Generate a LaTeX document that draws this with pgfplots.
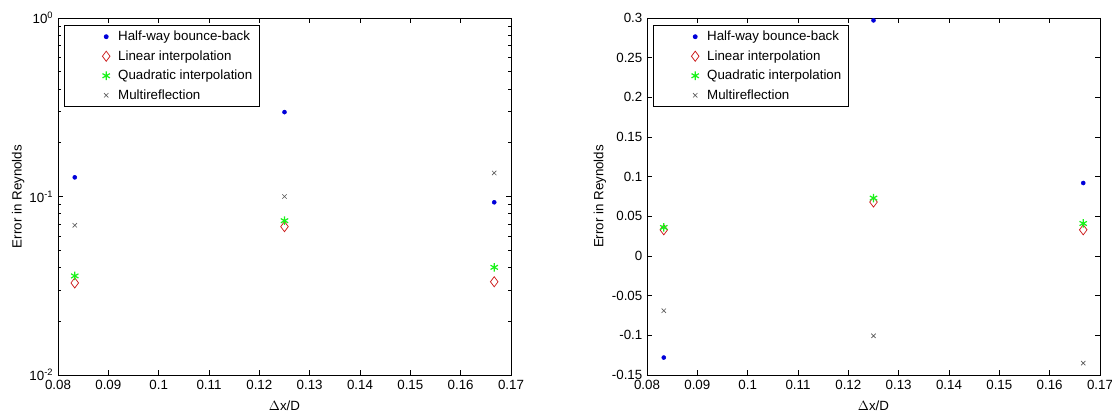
\documentclass[border=0pt]{standalone}
\usepackage{fontspec}
\setmainfont{Liberation Sans}
\usepackage{pgfplots}
\pgfplotsset{compat=1.18}
\definecolor{hbb}{rgb}{0,0,0.85}
\definecolor{lin}{rgb}{0.8,0.1,0.1}
\definecolor{quad}{rgb}{0.1,0.95,0.1}
\definecolor{mul}{rgb}{0.35,0.35,0.35}
\begin{document}
\begin{tikzpicture}[x=1pt,y=1pt]
\useasboundingbox (0,0) rectangle (834,312);
\pgfplotsset{
  leg/.style={legend image code/.code={\path (0pt,0pt) (34.5pt,0pt); \draw[##1] plot coordinates {(28pt,0pt)};}},
  myax/.style={
    scale only axis, width=339.75pt, height=267.75pt,
    xmin=0.08, xmax=0.17,
    xtick={0.08,0.09,0.1,0.11,0.12,0.13,0.14,0.15,0.16,0.17},
    scaled x ticks=false, scaled y ticks=false,
    xticklabel style={/pgf/number format/fixed,/pgf/number format/precision=2},
    /pgf/number format/assume math mode=true,
    tick label style={font=\fontsize{10}{12}\selectfont},
    label style={font=\fontsize{10}{12}\selectfont},
    axis line style={line width=0.6pt},
    every tick/.style={black, line width=0.5pt},
    major tick length=4pt, minor tick length=2.5pt,
    xlabel={$\Delta$x/D},
    xlabel style={at={(axis description cs:0.5,-0.087)},anchor=center},
    ylabel={Error in Reynolds},
    legend style={at={(axis description cs:0.013,0.98)}, anchor=north west,
      draw=black, line width=0.6pt, font=\fontsize{10}{12}\selectfont,
      row sep=1.9pt, cells={anchor=west}, inner xsep=3pt, inner ysep=2pt},
  },
  hbbp/.style={only marks, mark=*, mark size=1.5pt, color=hbb, leg},
  linp/.style={only marks, mark=diamond, mark size=3.8pt, color=lin, line width=0.55pt, leg},
  quadp/.style={only marks, mark=asterisk, mark size=3.2pt, color=quad, line width=0.9pt, leg},
  mulp/.style={only marks, mark=x, mark size=2.3pt, color=mul, line width=0.5pt, leg},
}
\begin{axis}[myax, at={(43.5pt,30.75pt)}, anchor=south west,
  ymode=log, ymin=0.01, ymax=1,
  ytick={0.01,0.1,1},
  yticklabels={10\textsuperscript{-2},10\textsuperscript{-1},10\textsuperscript{0}},
  minor ytick={0.02,0.03,0.04,0.05,0.06,0.07,0.08,0.09,0.2,0.3,0.4,0.5,0.6,0.7,0.8,0.9},
  ylabel style={at={(axis description cs:-0.088,0.5)},anchor=center},
]
\addplot[hbbp] coordinates {(0.08333,0.128) (0.125,0.297) (0.16667,0.0928)};
\addlegendentry{Half-way bounce-back}
\addplot[linp] coordinates {(0.08333,0.0328) (0.125,0.0678) (0.16667,0.0333)};
\addlegendentry{Linear interpolation}
\addplot[quadp] coordinates {(0.08333,0.0359) (0.125,0.0732) (0.16667,0.0401)};
\addlegendentry{Quadratic interpolation}
\addplot[mulp] coordinates {(0.08333,0.069) (0.125,0.100) (0.16667,0.1355)};
\addlegendentry{Multireflection}
\end{axis}
\begin{axis}[myax, at={(485.25pt,30.75pt)}, anchor=south west,
  ymin=-0.15, ymax=0.3,
  ytick={-0.15,-0.1,-0.05,0,0.05,0.1,0.15,0.2,0.25,0.3},
  yticklabel style={/pgf/number format/fixed,/pgf/number format/precision=2},
  ylabel style={at={(axis description cs:-0.104,0.5)},anchor=center},
]
\addplot[hbbp] coordinates {(0.08333,-0.128) (0.125,0.297) (0.16667,0.092)};
\addlegendentry{Half-way bounce-back}
\addplot[linp] coordinates {(0.08333,0.033) (0.125,0.068) (0.16667,0.033)};
\addlegendentry{Linear interpolation}
\addplot[quadp] coordinates {(0.08333,0.036) (0.125,0.073) (0.16667,0.041)};
\addlegendentry{Quadratic interpolation}
\addplot[mulp] coordinates {(0.08333,-0.069) (0.125,-0.1006) (0.16667,-0.135)};
\addlegendentry{Multireflection}
\end{axis}
\end{tikzpicture}
\end{document}
